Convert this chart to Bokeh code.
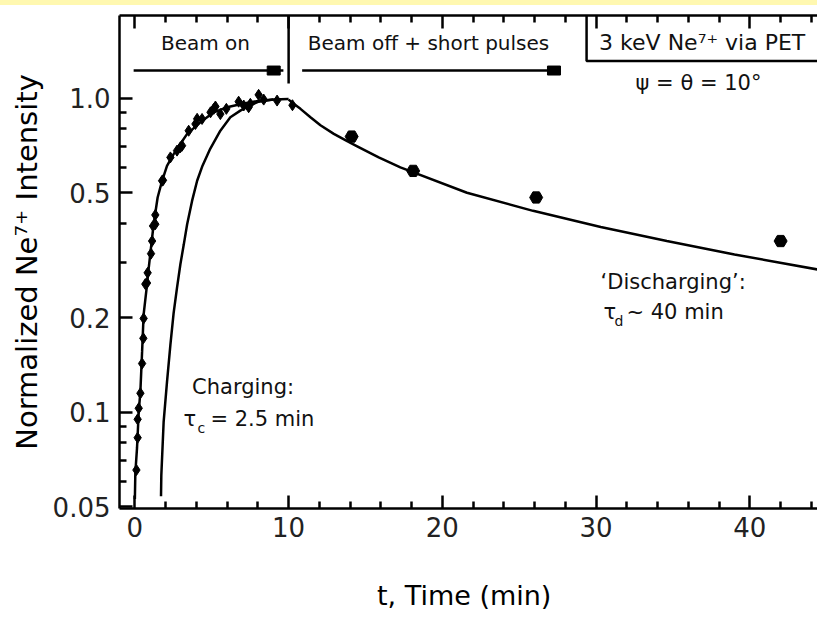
from bokeh.plotting import figure
from bokeh.models import Range1d, LinearAxis, FixedTicker, CustomJSTickFormatter, Label, Div
from bokeh.layouts import column
from bokeh.embed import file_html
from bokeh.resources import INLINE

FONT = "DejaVu Sans"

# ---------------- data ----------------
# beam-on / early data points (small markers)
ON_T = [0.10, 0.18, 0.18, 0.25, 0.36, 0.47, 0.55, 0.57, 0.68, 0.79, 0.83, 1.05, 1.12,
        1.18, 1.33, 1.33, 1.77, 1.83, 2.31, 2.74, 2.96, 3.07, 3.50, 3.94, 4.05, 4.37,
        4.92, 5.13, 5.24, 5.56, 5.95, 6.75, 7.08, 7.40, 7.51, 8.05, 8.38, 9.25, 10.25]
ON_I = [0.0655, 0.083, 0.095, 0.103, 0.115, 0.143, 0.172, 0.199, 0.256, 0.258, 0.278, 0.320, 0.351,
        0.392, 0.397, 0.425, 0.546, 0.548, 0.648, 0.681, 0.698, 0.706, 0.788, 0.828, 0.860, 0.859,
        0.902, 0.925, 0.941, 0.890, 0.925, 0.975, 0.948, 0.936, 0.960, 1.025, 0.990, 0.983, 0.950]

# beam-off short-pulse data points (large markers)
OFF_T = [14.1, 18.1, 26.1, 42.0]
OFF_I = [0.755, 0.587, 0.483, 0.351]

# fit curve through charging data
FIT1_T = [0.00, 0.03, 0.14, 0.25, 0.36, 0.47, 0.57, 0.75, 0.90, 1.22, 1.48, 1.77, 2.09,
          2.52, 3.00, 3.40, 4.26, 5.13, 6.00, 7.00, 8.00, 9.00]
FIT1_I = [0.053, 0.064, 0.077, 0.100, 0.117, 0.156, 0.205, 0.245, 0.288, 0.397, 0.483, 0.546, 0.609,
          0.664, 0.720, 0.770, 0.838, 0.902, 0.936, 0.960, 0.980, 0.990]

# charging model curve (tau_c = 2.5 min)
FIT2_T = [1.70, 1.72, 1.87, 2.09, 2.31, 2.52, 2.74, 2.96, 3.18, 3.40, 3.72, 4.05, 4.40,
          4.90, 5.56, 6.21, 6.86, 7.50, 8.05, 9.00, 10.00]
FIT2_I = [0.054, 0.063, 0.093, 0.125, 0.164, 0.207, 0.249, 0.296, 0.342, 0.397, 0.471, 0.546, 0.610,
          0.690, 0.788, 0.870, 0.913, 0.950, 0.975, 0.990, 0.995]

# discharging model curve (tau_d ~ 40 min)
FIT3_T = [10.00, 10.33, 10.77, 11.42, 12.07, 12.94, 13.81, 14.46, 15.86, 17.27, 21.6, 25.9,
          30.3, 34.6, 39.0, 44.4]
FIT3_I = [0.990, 0.960, 0.925, 0.870, 0.820, 0.770, 0.730, 0.703, 0.648, 0.602, 0.500, 0.438,
          0.389, 0.351, 0.318, 0.285]

X_TICKS = [0, 10, 20, 30, 40]
X_MINOR = [2, 4, 6, 8, 12, 14, 16, 18, 22, 24, 26, 28, 32, 34, 36, 38, 42, 44]
Y_TICKS = [0.05, 0.1, 0.2, 0.5, 1.0]
Y_TICK_LABELS = ["0.05", "0.1", "0.2", "0.5", "1.0"]
Y_MINOR = [0.06, 0.07, 0.08, 0.09, 0.3, 0.4, 0.6, 0.7, 0.8, 0.9]

# ---------------- figure ----------------
p = figure(width=817, height=612, x_range=Range1d(-1.0, 44.4), y_range=Range1d(0.0494, 1.834),
           y_axis_type="log", output_backend="svg", toolbar_location=None,
           min_border_left=119, min_border_right=0, min_border_top=10, min_border_bottom=109,
           background_fill_color="white", border_fill_color="white")
p.outline_line_color = None
p.xgrid.visible = False
p.ygrid.visible = False

AX_W = 2.5
def style_axis(ax, maj_in, min_in):
    ax.axis_line_width = AX_W
    ax.axis_line_color = "black"
    ax.major_tick_in = maj_in
    ax.major_tick_out = 0
    ax.minor_tick_in = min_in
    ax.minor_tick_out = 0
    ax.major_tick_line_width = AX_W
    ax.minor_tick_line_width = AX_W
    ax.major_tick_line_color = "black"
    ax.minor_tick_line_color = "black"
    ax.major_label_text_font = FONT
    ax.major_label_text_color = "#222222"
    ax.axis_label_text_font = FONT
    ax.axis_label_text_font_style = "normal"
    ax.axis_label_text_color = "black"

xa = p.xaxis[0]
xa.ticker = FixedTicker(ticks=X_TICKS, minor_ticks=X_MINOR)
style_axis(xa, 13, 7)
xa.major_label_text_font_size = "26px"
xa.major_label_standoff = 8
xa.axis_label = "t,  Time (min)"
xa.axis_label_text_font_size = "27px"
xa.axis_label_standoff = 40

ya = p.yaxis[0]
ya.ticker = FixedTicker(ticks=Y_TICKS, minor_ticks=Y_MINOR)
ya.formatter = CustomJSTickFormatter(args=dict(t=Y_TICKS, l=Y_TICK_LABELS), code="""
let b = 0, d = 1e9;
for (let i = 0; i < t.length; i++) {
  const e = Math.abs(Math.log(t[i]) - Math.log(tick));
  if (e < d) { d = e; b = i; }
}
return l[b];
""")
style_axis(ya, 13, 7)
ya.major_label_text_font_size = "26px"
ya.major_label_standoff = 9
ya.axis_label = "Normalized Ne\u2077\u207a Intensity"
ya.axis_label_text_font_size = "29px"
ya.axis_label_standoff = 6

# top frame edge with inward ticks, no labels
top = LinearAxis(ticker=FixedTicker(ticks=X_TICKS, minor_ticks=X_MINOR))
style_axis(top, 13, 7)
top.major_label_text_font_size = "0px"
top.major_label_text_color = None
top.major_label_text_alpha = 0
top.major_label_standoff = 0
p.add_layout(top, "above")

LW = 2.5
p.line(FIT1_T, FIT1_I, line_color="black", line_width=LW)
p.line(FIT2_T, FIT2_I, line_color="black", line_width=LW)
p.line(FIT3_T, FIT3_I, line_color="black", line_width=LW)
p.scatter(ON_T, ON_I, marker="diamond", size=11, fill_color="black", line_color="black")
p.scatter(OFF_T, OFF_I, marker="hex", size=13, fill_color="black", line_color="black")

# ---------------- annotations ----------------
ARROW_Y = 1.225
p.segment(x0=[-0.08, 10.88], y0=[ARROW_Y, ARROW_Y], x1=[9.66, 27.68], y1=[ARROW_Y, ARROW_Y],
          line_color="black", line_width=2.5)
p.rect(x=[9.03, 27.26], y=[ARROW_Y, ARROW_Y], width=13, height=9,
       width_units="screen", height_units="screen", fill_color="black", line_color="black")
p.segment(x0=[10], y0=[1.114], x1=[10], y1=[1.9], line_color="black", line_width=2.5)
p.quad(left=[29.38], right=[60], bottom=[1.314], top=[3], fill_color=None,
       line_color="black", line_width=2.5)

def lab(x, y, text, size, align="left", xo=0, yo=0):
    p.add_layout(Label(x=x, y=y, text=text, text_font=FONT, text_font_size=size,
                       text_align=align, text_baseline="middle", text_color="#111111",
                       x_offset=xo, y_offset=yo))

lab(4.59, 1.504, "Beam on", "20px", "center")
lab(19.1, 1.504, "Beam off + short pulses", "20px", "center")
lab(36.9, 1.51, "3 keV Ne\u2077\u207a via PET", "22px", "center")
lab(36.66, 1.122, "\u03c8 = \u03b8 = 10\u00b0", "21px", "center")

lab(3.72, 0.1207, "Charging:", "21px")
lab(3.16, 0.0955, "\u03c4", "21px")
lab(3.16, 0.0955, "c", "14px", xo=14, yo=-9)
lab(3.16, 0.0955, "= 2.5 min", "21px", xo=27)

lab(30.29, 0.2595, "\u2018Discharging\u2019:", "21px")
lab(30.48, 0.208, "\u03c4", "21px")
lab(30.48, 0.208, "d", "14px", xo=11, yo=-9)
lab(30.48, 0.208, "~ 40 min", "21px", xo=23)

band = Div(text="", width=817, height=5, margin=0,
           styles={"background-color": "#FFF8B0"})
layout = column(band, p, spacing=0)

open("out.html", "w").write(file_html(layout, INLINE))
